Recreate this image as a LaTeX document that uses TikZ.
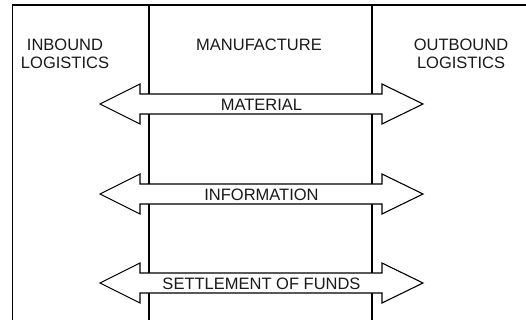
\documentclass[tikz,border=0pt]{standalone}
\usepackage{fontspec}
\setmainfont{Liberation Sans}
\begin{document}
\begin{tikzpicture}[x=1pt,y=-1pt,
  frame/.style={line width=1.3pt,black},
  dblarrow/.style={line width=1.1pt,draw=black,fill=white,line join=miter},
  lbl/.style={font=\fontsize{16.5}{18}\selectfont,align=center,inner sep=0pt,text=black!90}]
\useasboundingbox (0,0) rectangle (526,320);
% frame lines
\coordinate (tl) at (12.5,5);
\coordinate (tr) at (526,5);
\coordinate (bl) at (12.5,320);
\coordinate (m1t) at (149,5);
\coordinate (m1b) at (149,320);
\coordinate (m2t) at (372,5);
\coordinate (m2b) at (372,320);
\draw[frame] (bl) -- (tl) -- (tr);
\draw[frame] (m1t) -- (m1b);
\draw[frame] (m2t) -- (m2b);
% column headings
\node[lbl] (inbound) at (65,54) {INBOUND\\LOGISTICS};
\node[lbl] (manuf) at (259,45) {MANUFACTURE};
\node[lbl] (outbound) at (461,54) {OUTBOUND\\LOGISTICS};
% double arrows
\foreach \yc/\name/\txt in {104/material/MATERIAL,194/information/INFORMATION,283/funds/SETTLEMENT OF FUNDS}{
  \draw[dblarrow] (100,\yc) -- (140,\yc-20) -- (140,\yc-10) -- (382,\yc-10) -- (382,\yc-20)
     -- (423,\yc) -- (382,\yc+20) -- (382,\yc+10) -- (140,\yc+10) -- (140,\yc+20) -- cycle;
  \node[lbl] (\name) at (261.5,\yc+0.5) {\txt};
}
\end{tikzpicture}
\end{document}
